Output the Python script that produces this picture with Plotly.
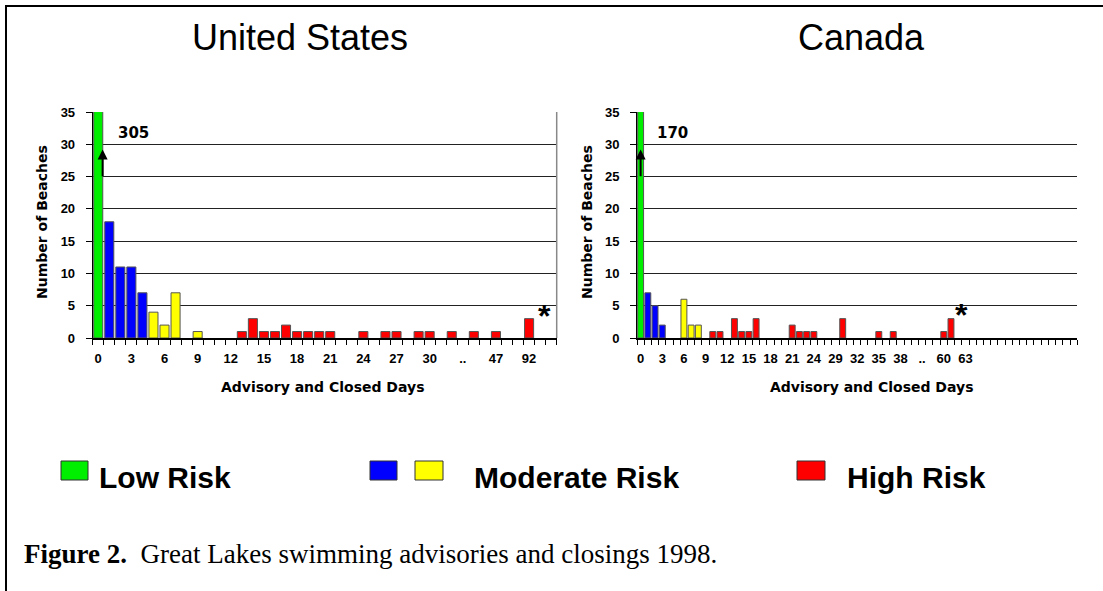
import plotly.graph_objects as go

W, H = 1103, 591

# Number of beaches by advisory/closed-day class (one slot per class)
us_counts = [305, 18, 11, 11, 7, 4, 2, 7, 0, 1, 0, 0, 0, 1, 3, 1, 1, 2, 1, 1, 1,
             1, 0, 0, 1, 0, 1, 1, 0, 1, 1, 0, 1, 0, 1, 0, 1, 0, 0, 3, 0, 0]
us_tick_pos = [0, 3, 6, 9, 12, 15, 18, 21, 24, 27, 30, 33, 36, 39]
us_tick_text = ["0", "3", "6", "9", "12", "15", "18", "21", "24", "27", "30", "..", "47", "92"]

ca_counts = [170, 7, 5, 2, 0, 0, 6, 2, 2, 0, 1, 1, 0, 3, 1, 1, 3, 0, 0, 0, 0,
             2, 1, 1, 1, 0, 0, 0, 3, 0, 0, 0, 0, 1, 0, 1, 0, 0, 0, 0, 0,
             0, 1, 3, 0, 0, 0, 0, 0, 0, 0, 0, 0, 0, 0, 0, 0, 0, 0, 0, 0]
ca_tick_pos = [0, 3, 6, 9, 12, 15, 18, 21, 24, 27, 30, 33, 36, 39, 42, 45]
ca_tick_text = ["0", "3", "6", "9", "12", "15", "18", "21", "24", "29", "32", "35",
                "38", "..", "60", "63"]

# Risk classes by slot: 0 = low, 1-4 moderate (blue), 5-9 moderate (yellow), 10+ high
risk_names = ["Low Risk", "Moderate Risk", "Moderate Risk", "High Risk"]
risk_colors = ["#00ee00", "#0000ff", "#ffff00", "#ff0000"]
risk_bounds = [(0, 0), (1, 4), (5, 9), (10, 999)]

y_ticks = [0, 5, 10, 15, 20, 25, 30, 35]

# Plot-area geometry in pixels
US_X = (92.7, 556.7)
CA_X = (637.0, 1077.3)
PLOT_Y = (112.0, 338.0)


def px_x(x):
    return x / W


def px_y(y):
    return 1 - y / H


fig = go.Figure()

for counts, xa, ya in [(us_counts, "x", "y"), (ca_counts, "x2", "y2")]:
    for name, color, (lo, hi) in zip(risk_names, risk_colors, risk_bounds):
        xs = [i for i, v in enumerate(counts) if lo <= i <= hi and v > 0]
        ys = [counts[i] for i in xs]
        fig.add_trace(go.Bar(
            x=xs, y=ys, xaxis=xa, yaxis=ya, name=name, showlegend=False,
            width=0.82,
            marker=dict(color=color, line=dict(color="#555555", width=1)),
        ))

tick_font = dict(family="Liberation Sans", size=13, color="black", weight="bold")
ytick_font = dict(family="Liberation Sans", size=13, color="black", weight="bold")


def xaxis_cfg(n, domain, pos, text, anchor):
    return dict(
        domain=domain, range=[-0.5, n - 0.5], anchor=anchor,
        tickmode="array", tickvals=pos, ticktext=text,
        ticks="", tickfont=tick_font, ticklabelstandoff=8,
        showgrid=False, zeroline=False,
        showline=True, linecolor="black", linewidth=1.5,
        minor=dict(tickmode="linear", tick0=-0.5, dtick=1, ticks="outside",
                   ticklen=5, tickcolor="black", tickwidth=1, showgrid=False),
        automargin=False, fixedrange=True,
    )


def yaxis_cfg(domain, anchor):
    return dict(
        domain=domain, range=[0, 35], anchor=anchor, tickmode="array", tickvals=y_ticks,
        ticks="outside", ticklen=6, tickcolor="black", tickwidth=1,
        tickfont=ytick_font, ticklabelstandoff=8,
        showgrid=True, gridcolor="#222222", gridwidth=1,
        zeroline=False, showline=True, linecolor="black", linewidth=1,
        automargin=False, fixedrange=True,
    )


ydom = [px_y(PLOT_Y[1]), px_y(PLOT_Y[0])]
fig.update_layout(
    width=W, height=H,
    margin=dict(l=0, r=0, t=0, b=0),
    paper_bgcolor="white", plot_bgcolor="white",
    showlegend=False,
    xaxis=xaxis_cfg(len(us_counts), [px_x(US_X[0]), px_x(US_X[1])],
                    us_tick_pos, us_tick_text, "y"),
    yaxis=yaxis_cfg(ydom, "x"),
    xaxis2=xaxis_cfg(len(ca_counts), [px_x(CA_X[0]), px_x(CA_X[1])],
                     ca_tick_pos, ca_tick_text, "y2"),
    yaxis2=yaxis_cfg(ydom, "x2"),
)

title_font = dict(family="Liberation Sans", size=36, color="black")
axis_title_font = dict(family="DejaVu Sans", size=14, color="black", weight="bold")
ytitle_font = dict(family="DejaVu Sans", size=14, color="black", weight="bold")
label_font = dict(family="DejaVu Sans", size=15, color="black", weight="bold")
star_font = dict(family="Liberation Sans", size=32, color="black", weight="bold")

ann = []
# Panel titles
ann.append(dict(text="United States", x=px_x(300), y=px_y(37), xref="paper", yref="paper",
                showarrow=False, font=title_font, xanchor="center", yanchor="middle"))
ann.append(dict(text="Canada", x=px_x(861), y=px_y(37), xref="paper", yref="paper",
                showarrow=False, font=title_font, xanchor="center", yanchor="middle"))
# Axis titles
for cx in (322, 871):
    ann.append(dict(text="Advisory and Closed Days", x=px_x(cx), y=px_y(387),
                    xref="paper", yref="paper", showarrow=False, font=axis_title_font,
                    xanchor="center", yanchor="middle"))
for cx in (42, 587):
    ann.append(dict(text="Number of Beaches", x=px_x(cx), y=px_y(222), textangle=-90,
                    xref="paper", yref="paper", showarrow=False, font=ytitle_font,
                    xanchor="center", yanchor="middle"))

# Off-scale low-risk totals with arrows
for xa, ya, total, lx, ax in [("x", "y", us_counts[0], 3.2, 0.4),
                              ("x2", "y2", ca_counts[0], 4.35, 0.0)]:
    ann.append(dict(text=str(total), x=lx, y=31.8, xref=xa, yref=ya, showarrow=False,
                    font=label_font, xanchor="center", yanchor="middle"))
    ann.append(dict(text="", x=ax, y=29.2, ax=ax, ay=24.8, xref=xa, yref=ya,
                    axref=xa, ayref=ya, showarrow=True, arrowhead=2, arrowsize=1,
                    arrowwidth=2, arrowcolor="black", standoff=0, startstandoff=0))

# Asterisks
ann.append(dict(text="*", x=40.4, y=3.4, xref="x", yref="y", showarrow=False,
                font=star_font, xanchor="center", yanchor="middle"))
ann.append(dict(text="*", x=44.5, y=3.6, xref="x2", yref="y2", showarrow=False,
                font=star_font, xanchor="center", yanchor="middle"))

# Legend
legend_font = dict(family="Liberation Sans", size=30, color="black", weight="bold")
for tx, label in [(97, "Low Risk"), (472, "Moderate Risk"), (845, "High Risk")]:
    ann.append(dict(text=label, x=px_x(tx), y=px_y(477), xref="paper", yref="paper",
                    showarrow=False, font=legend_font, xanchor="left", yanchor="middle"))

# Caption
ann.append(dict(
    text="<b>Figure 2.</b>&nbsp; Great Lakes swimming advisories and closings 1998.",
    x=px_x(22), y=px_y(554), xref="paper", yref="paper", showarrow=False,
    font=dict(family="Liberation Serif", size=27, color="black"),
    xanchor="left", yanchor="middle"))

fig.update_layout(annotations=ann)

shapes = []
# Legend swatches
for (x0, x1), color in [((61, 88), risk_colors[0]), ((370, 397), risk_colors[1]),
                        ((415, 443), risk_colors[2]), ((797, 825), risk_colors[3])]:
    shapes.append(dict(type="rect", xref="paper", yref="paper",
                       x0=px_x(x0), x1=px_x(x1), y0=px_y(480), y1=px_y(461),
                       fillcolor=color, line=dict(color="#333333", width=1)))
# Right border of the US panel
shapes.append(dict(type="line", xref="x domain", yref="y domain", x0=1, x1=1, y0=0, y1=1,
                   line=dict(color="#888888", width=1.5)))
# Page frame
shapes.append(dict(type="line", xref="paper", yref="paper", x0=px_x(5), x1=1,
                   y0=px_y(6), y1=px_y(6), line=dict(color="black", width=2)))
shapes.append(dict(type="line", xref="paper", yref="paper", x0=px_x(6), x1=px_x(6),
                   y0=0, y1=px_y(5), line=dict(color="black", width=2)))
fig.update_layout(shapes=shapes)

fig.write_html("out.html")
